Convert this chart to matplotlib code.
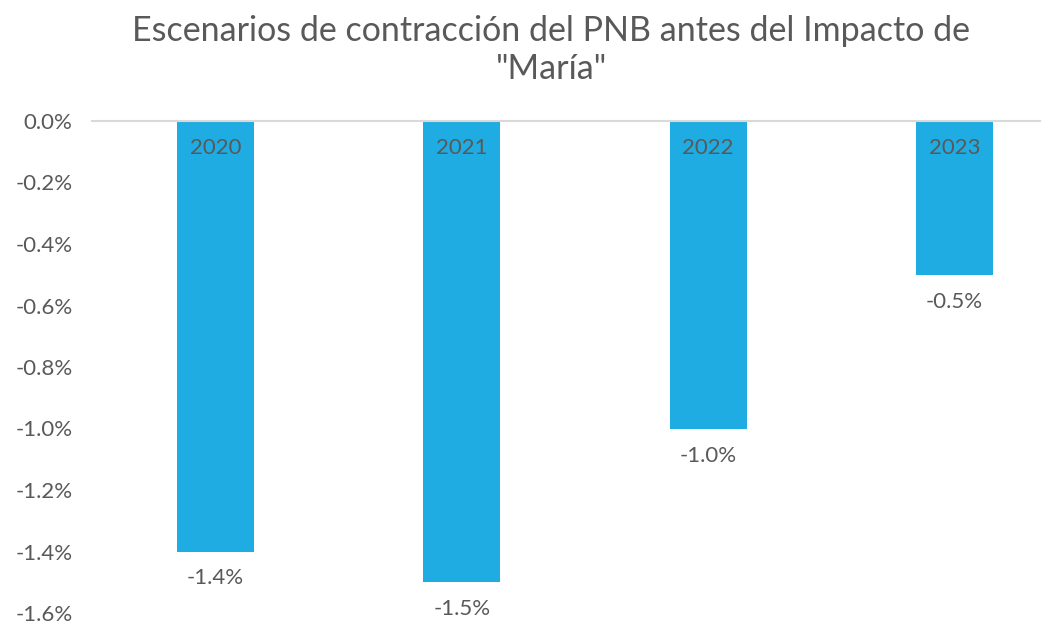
import matplotlib
matplotlib.use("Agg")
import matplotlib.pyplot as plt
from matplotlib.ticker import FuncFormatter

# data
years = ["2020", "2021", "2022", "2023"]
values = [-1.4, -1.5, -1.0, -0.5]
yticks = [0.0, -0.2, -0.4, -0.6, -0.8, -1.0, -1.2, -1.4, -1.6]

bar_color = "#1EACE3"
text_color = "#595959"

plt.rcParams["font.family"] = ["Lato", "DejaVu Sans"]

fig = plt.figure(figsize=(10.46, 6.23), dpi=100)
ax = fig.add_axes([92 / 1046, 10 / 623, (1040 - 92) / 1046, (613 - 121) / 623])

x = list(range(len(years)))
ax.bar(x, values, width=0.313, color=bar_color, zorder=2)

ax.set_xlim(-0.501, 3.347)
ax.set_ylim(-1.6, 0.0)
ax.set_yticks(yticks)
ax.yaxis.set_major_formatter(FuncFormatter(lambda v, p: "%.1f%%" % v))
ax.tick_params(axis="y", length=0, pad=14, labelsize=16, labelcolor=text_color)
ax.set_xticks([])

for s in ["left", "right", "bottom"]:
    ax.spines[s].set_visible(False)
ax.spines["top"].set_color("#D9D9D9")
ax.spines["top"].set_linewidth(1.5)

# year labels inside bars, value labels under bar ends
for xi, yr, v in zip(x, years, values):
    ax.annotate(yr, (xi, 0), xytext=(0, -27), textcoords="offset pixels",
                ha="center", va="center", fontsize=16, color=text_color)
    ax.annotate("%.1f%%" % v, (xi, v), xytext=(0, -27), textcoords="offset pixels",
                ha="center", va="center", fontsize=16, color=text_color,
                annotation_clip=False)

fig.text(0.527, 0.92, 'Escenarios de contracción del PNB antes del Impacto de\n"María"',
         ha="center", va="center", fontsize=24.5, color=text_color, linespacing=1.25)

fig.savefig("out.png", dpi=100)
